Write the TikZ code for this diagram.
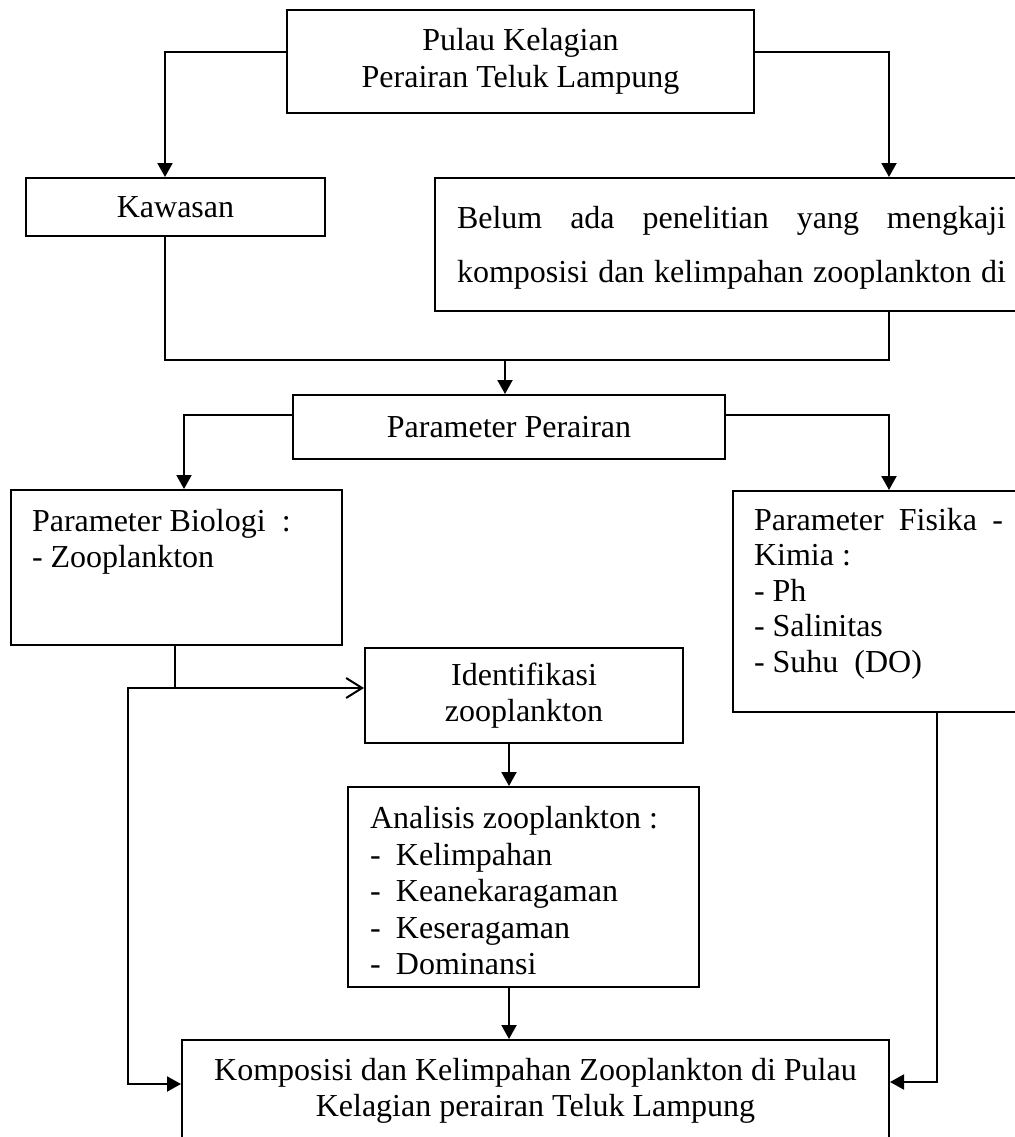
\documentclass[tikz,border=0pt]{standalone}
\usepackage{fontspec}
\setmainfont{Liberation Serif}
\usetikzlibrary{arrows.meta}

\begin{document}
\begin{tikzpicture}[x=1pt, y=-1pt, line width=2pt, font=\fontsize{32}{36.5}\selectfont,
  kotak/.style={draw, inner sep=0pt},
  panah/.style={-{Triangle[length=14pt,width=15pt]}},
  panahbuka/.style={-{Straight Barb[length=16pt,width=20pt]}}]
  \useasboundingbox (0,0) rectangle (1014,1137);

  \node[kotak, minimum width=467pt, minimum height=103pt, align=center] (pulau) at (520.5,61.5) {Pulau Kelagian\\Perairan Teluk Lampung};
  \node[kotak, minimum width=299pt, minimum height=58pt] (kawasan) at (175.5,207) {Kawasan};
  \node[kotak, anchor=north west, inner xsep=22pt, inner ysep=13pt, font=\fontsize{32}{54}\selectfont] (belum) at (434,177)
    {\parbox[c][107pt][t]{549pt}{\strut\makebox[549pt][s]{Belum ada penelitian yang mengkaji}\\\makebox[549pt][s]{komposisi dan kelimpahan zooplankton di}}};
  \node[kotak, minimum width=432pt, minimum height=64pt] (param) at (509,427) {Parameter Perairan};
  \node[kotak, anchor=north west, inner xsep=21pt, inner ysep=15.5pt] (biologi) at (10,489)
    {\parbox[c][124pt][t]{289pt}{\strut Parameter Biologi\ \ :\\- Zooplankton}};
  \node[kotak, anchor=north west, inner xsep=21pt, inner ysep=14.5pt, font=\fontsize{32}{35.5}\selectfont] (fisika) at (732,490)
    {\parbox[c][192pt][t]{249pt}{\strut\makebox[249pt][s]{Parameter Fisika -}\\Kimia :\\- Ph\\- Salinitas\\- Suhu\ \ (DO)}};
  \node[kotak, minimum width=318pt, minimum height=95pt, align=center] (ident) at (524,695.5) {Identifikasi\\zooplankton};
  \node[kotak, anchor=north west, inner xsep=22pt, inner ysep=16pt] (analisis) at (347,786)
    {\parbox[c][168pt][t]{307pt}{\strut Analisis zooplankton :\\\makebox[26pt][l]{-}Kelimpahan\\\makebox[26pt][l]{-}Keanekaragaman\\\makebox[26pt][l]{-}Keseragaman\\\makebox[26pt][l]{-}Dominansi}};
  \node[kotak, anchor=north west, inner xsep=20pt, inner ysep=14.5pt] (komposisi) at (181,1039)
    {\parbox[c][101pt][t]{667pt}{\centering\strut Komposisi dan Kelimpahan Zooplankton di Pulau\\Kelagian perairan Teluk Lampung}};

  \coordinate (kolKawasan) at (165,0);
  \coordinate (kolBelum) at (889,0);
  \coordinate (gabung) at (505,360);
  \coordinate (kolBiologi) at (184,0);
  \coordinate (cabang) at (175,688);
  \coordinate (kolKiri) at (128,688);
  \coordinate (kolTengah) at (509,0);
  \coordinate (kolKanan) at (937,0);

  \draw[panah] ([yshift=9.5pt]pulau.west) -| (kolKawasan |- kawasan.north);
  \draw[panah] ([yshift=9.5pt]pulau.east) -| (kolBelum |- belum.north);
  \draw (kolKawasan |- kawasan.south) |- (gabung) -| (kolBelum |- belum.south);
  \draw[panah] (gabung) -- (gabung |- param.north);
  \draw[panah] ([yshift=12pt]param.west) -| (kolBiologi |- biologi.north);
  \draw[panah] ([yshift=12pt]param.east) -| (kolBelum |- fisika.north);
  \draw (cabang |- biologi.south) -- (cabang);
  \draw[panahbuka] (cabang) -- (cabang -| ident.west);
  \draw[panah] (cabang) -- (kolKiri) |- ([yshift=21pt]komposisi.west);
  \draw[panah] (kolTengah |- ident.south) -- (kolTengah |- analisis.north);
  \draw[panah] (kolTengah |- analisis.south) -- (kolTengah |- komposisi.north);
  \draw[panah] (kolKanan |- fisika.south) |- ([yshift=23pt]komposisi.east);
\end{tikzpicture}
\end{document}
